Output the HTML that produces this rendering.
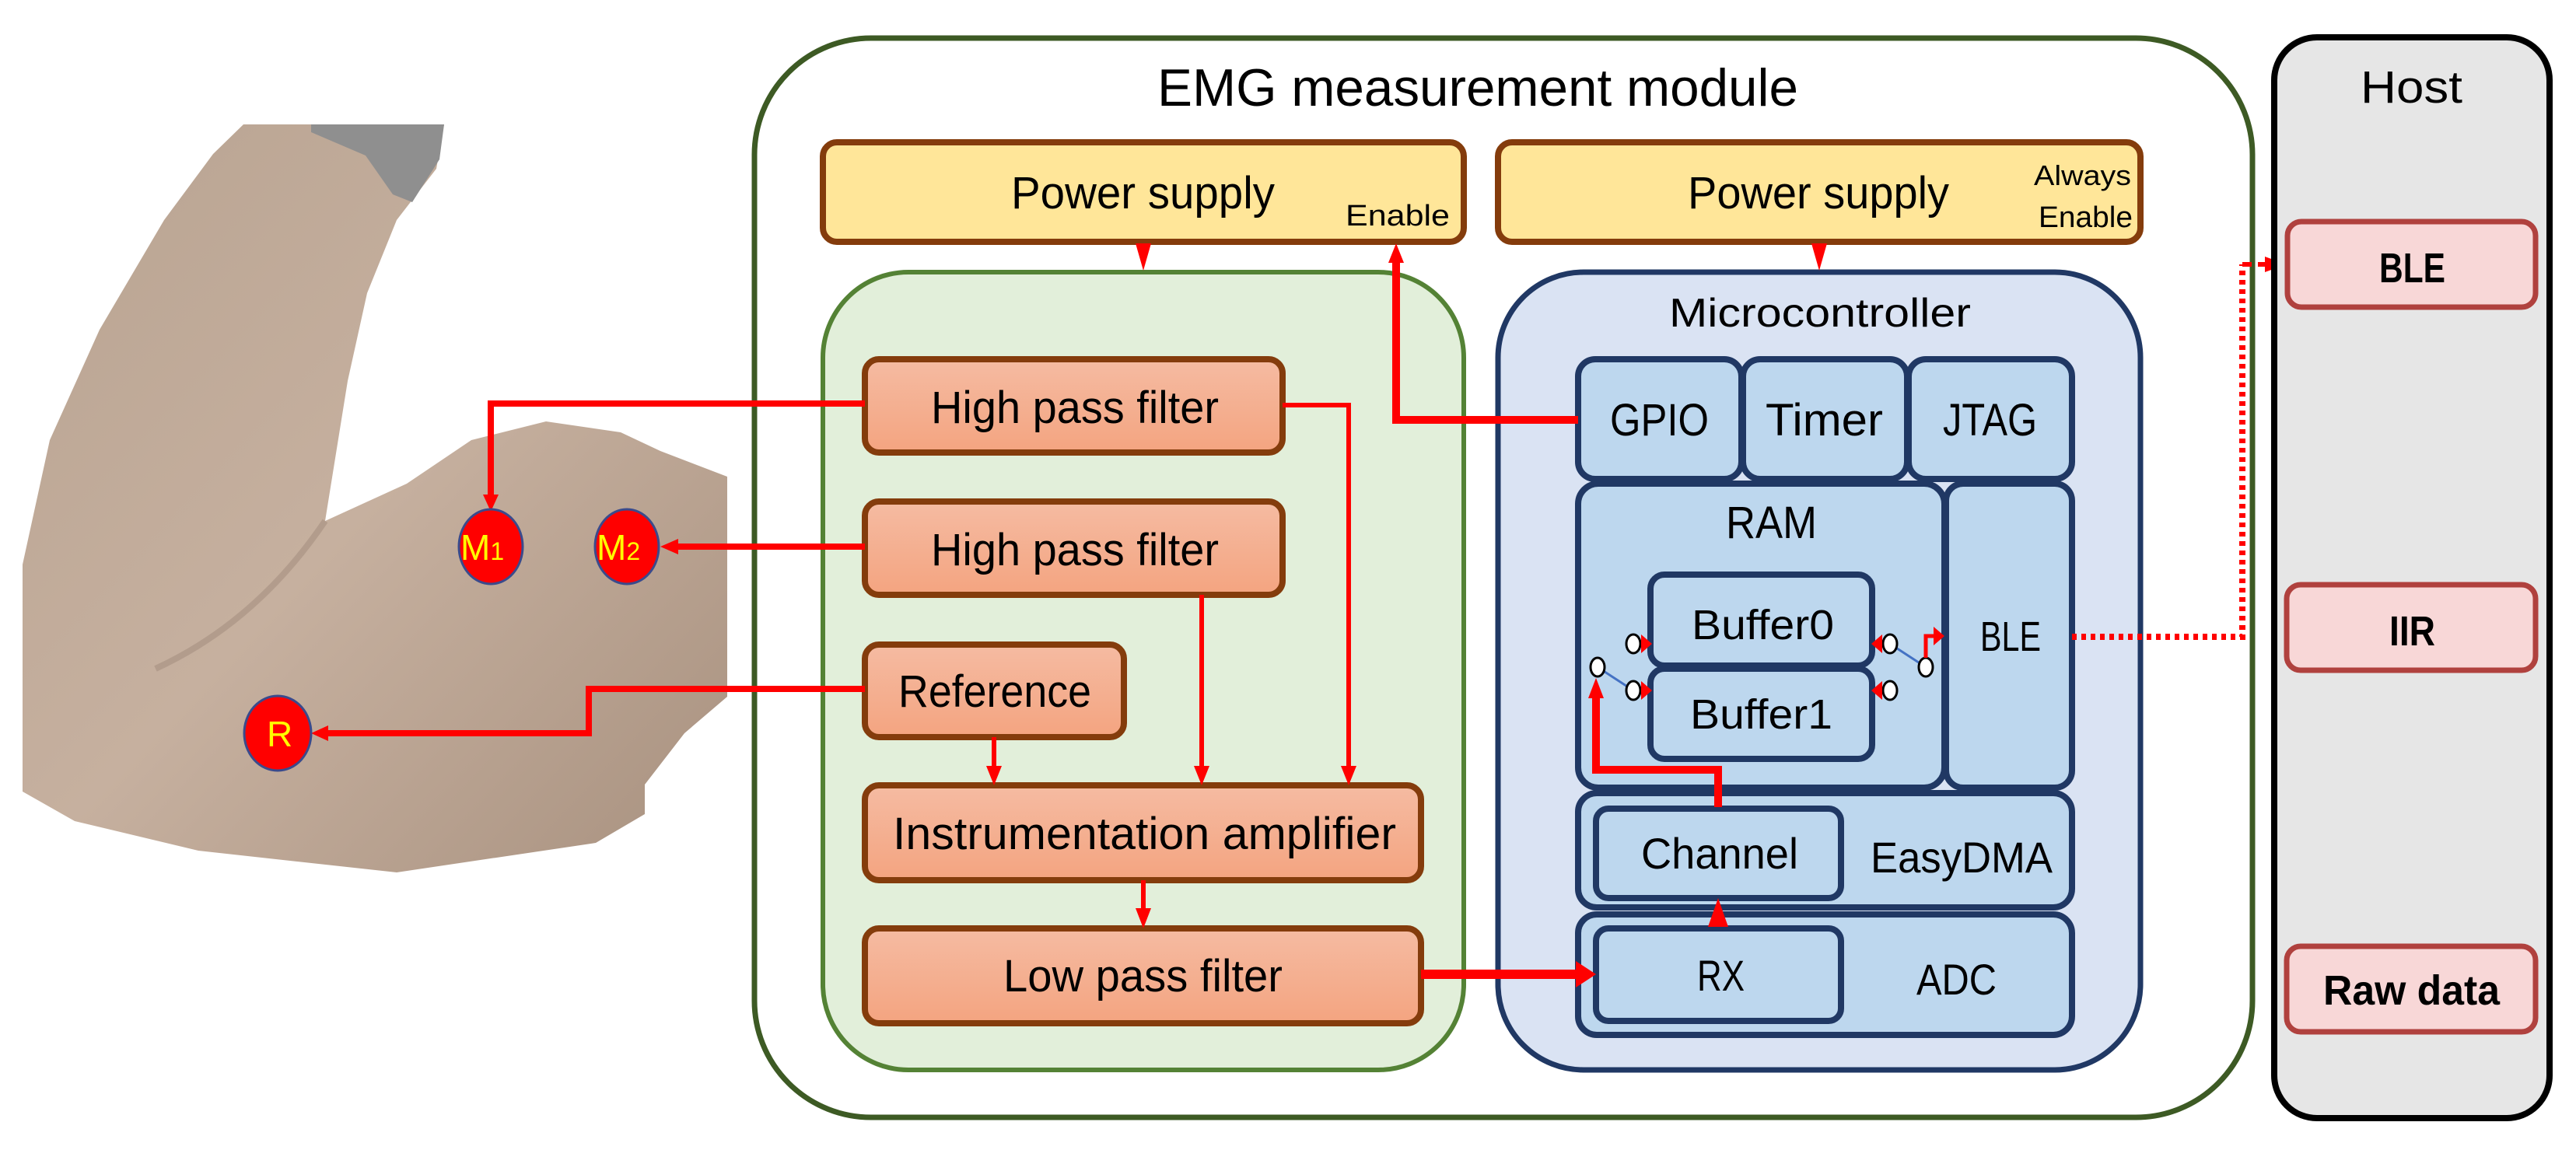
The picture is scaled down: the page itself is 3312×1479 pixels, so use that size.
<!DOCTYPE html>
<html><head><meta charset="utf-8"><style>html,body{margin:0;padding:0;background:#fff}svg{display:block}</style></head>
<body>
<svg width="3312" height="1479" viewBox="0 0 3312 1479" xmlns="http://www.w3.org/2000/svg" font-family="'Liberation Sans Narrow','Liberation Sans',sans-serif">
<defs>
<linearGradient id="og" x1="0" y1="0" x2="0" y2="1"><stop offset="0" stop-color="#f5bba2"/><stop offset="1" stop-color="#f4a480"/></linearGradient>
<linearGradient id="skin" x1="0" y1="0" x2="1" y2="1"><stop offset="0" stop-color="#b8a391"/><stop offset="0.5" stop-color="#c6b09f"/><stop offset="1" stop-color="#a8917f"/></linearGradient>
</defs>
<!-- arm -->
<polygon fill="url(#skin)" points="313,160 571,160 561,217 510,283 472,377 447,490 418,670 523,622 606,566 702,542 798,556 849,580 935,613 935,896 880,943 829,1009 829,1047 766,1084 510,1122 255,1094 96,1056 29,1018 29,726 64,566 128,424 211,283 274,198"/>
<polygon fill="#8f8f8f" points="400,160 571,160 565,205 530,260 505,250 470,200 400,170"/>
<path d="M418,670 Q330,800 200,860" stroke="#957f70" stroke-width="8" fill="none" opacity="0.4"/>
<!-- outer EMG box -->
<rect x="970" y="49" width="1926" height="1388" rx="150" fill="#fff" stroke="#3d5a24" stroke-width="7"/>
<text x="1488" y="136" font-size="68" textLength="824" lengthAdjust="spacingAndGlyphs">EMG measurement module</text>
<!-- power supplies -->
<rect x="1058" y="183" width="824" height="128" rx="18" fill="#ffe699" stroke="#843c0c" stroke-width="8"/>
<text x="1300" y="268" font-size="58" textLength="339" lengthAdjust="spacingAndGlyphs">Power supply</text>
<text x="1730" y="290" font-size="38" textLength="134" lengthAdjust="spacingAndGlyphs">Enable</text>
<rect x="1926" y="183" width="826" height="128" rx="18" fill="#ffe699" stroke="#843c0c" stroke-width="8"/>
<text x="2170" y="268" font-size="58" textLength="336" lengthAdjust="spacingAndGlyphs">Power supply</text>
<text x="2615" y="238" font-size="36" textLength="125" lengthAdjust="spacingAndGlyphs">Always</text>
<text x="2621" y="292" font-size="38" textLength="121" lengthAdjust="spacingAndGlyphs">Enable</text>
<!-- green box -->
<rect x="1058" y="350" width="824" height="1026" rx="110" fill="#e2efda" stroke="#548235" stroke-width="6"/>
<!-- blue box -->
<rect x="1926" y="350" width="826" height="1026" rx="110" fill="#dae3f3" stroke="#203864" stroke-width="7"/>
<text x="2146" y="420" font-size="52" textLength="388" lengthAdjust="spacingAndGlyphs">Microcontroller</text>
<!-- power arrows -->
<polygon points="1460,313 1480,313 1470,348" fill="#f00"/>
<polygon points="2329,313 2349,313 2339,348" fill="#f00"/>
<!-- orange boxes -->
<g fill="url(#og)" stroke="#843c0c" stroke-width="8">
<rect x="1112" y="462" width="537" height="120" rx="18"/>
<rect x="1112" y="645" width="537" height="120" rx="18"/>
<rect x="1112" y="829" width="333" height="119" rx="18"/>
<rect x="1112" y="1010" width="715" height="122" rx="18"/>
<rect x="1112" y="1194" width="715" height="122" rx="18"/>
</g>
<g font-size="58">
<text x="1197" y="544" textLength="370" lengthAdjust="spacingAndGlyphs">High pass filter</text>
<text x="1197" y="727" textLength="370" lengthAdjust="spacingAndGlyphs">High pass filter</text>
<text x="1155" y="909" textLength="248" lengthAdjust="spacingAndGlyphs">Reference</text>
<text x="1148" y="1092" textLength="647" lengthAdjust="spacingAndGlyphs">Instrumentation amplifier</text>
<text x="1290" y="1275" textLength="359" lengthAdjust="spacingAndGlyphs">Low pass filter</text>
</g>
<!-- blue inner -->
<g fill="#bdd7ee" stroke="#203864" stroke-width="8">
<rect x="2029" y="462" width="210" height="154" rx="22"/>
<rect x="2241" y="462" width="211" height="154" rx="22"/>
<rect x="2454" y="462" width="210" height="154" rx="22"/>
<rect x="2029" y="622" width="471" height="391" rx="26"/>
<rect x="2502" y="622" width="162" height="391" rx="22"/>
<rect x="2122" y="739" width="285" height="117" rx="18"/>
<rect x="2122" y="860" width="285" height="116" rx="18"/>
<rect x="2029" y="1020" width="635" height="147" rx="24"/>
<rect x="2052" y="1040" width="315" height="115" rx="16"/>
<rect x="2029" y="1176" width="635" height="155" rx="24"/>
<rect x="2052" y="1194" width="315" height="119" rx="16"/>
</g>
<g font-size="58">
<text x="2070" y="560" textLength="127" lengthAdjust="spacingAndGlyphs">GPIO</text>
<text x="2270" y="560" textLength="151" lengthAdjust="spacingAndGlyphs">Timer</text>
<text x="2498" y="560" textLength="121" lengthAdjust="spacingAndGlyphs">JTAG</text>
<text x="2219" y="692" textLength="117" lengthAdjust="spacingAndGlyphs">RAM</text>
<text x="2175" y="822" font-size="54" textLength="183" lengthAdjust="spacingAndGlyphs">Buffer0</text>
<text x="2173" y="937" font-size="54" textLength="183" lengthAdjust="spacingAndGlyphs">Buffer1</text>
<text x="2546" y="837" font-size="54" textLength="78" lengthAdjust="spacingAndGlyphs">BLE</text>
<text x="2110" y="1117" font-size="56" textLength="202" lengthAdjust="spacingAndGlyphs">Channel</text>
<text x="2405" y="1122" font-size="56" textLength="234" lengthAdjust="spacingAndGlyphs">EasyDMA</text>
<text x="2182" y="1274" font-size="56" textLength="61" lengthAdjust="spacingAndGlyphs">RX</text>
<text x="2464" y="1279" font-size="56" textLength="103" lengthAdjust="spacingAndGlyphs">ADC</text>
</g>
<!-- switches -->
<g stroke="#4472c4" stroke-width="3"><line x1="2054" y1="858" x2="2100" y2="888"/><line x1="2430" y1="828" x2="2476" y2="858"/></g>
<g fill="#fff" stroke="#000" stroke-width="3">
<ellipse cx="2100" cy="828" rx="9" ry="12"/><ellipse cx="2100" cy="888" rx="9" ry="12"/><ellipse cx="2054" cy="858" rx="9" ry="12"/>
<ellipse cx="2430" cy="828" rx="9" ry="12"/><ellipse cx="2430" cy="888" rx="9" ry="12"/><ellipse cx="2476" cy="858" rx="9" ry="12"/>
</g>
<g fill="#f00">
<polygon points="2110,816 2124,828 2110,840"/><polygon points="2110,876 2124,888 2110,900"/>
<polygon points="2420,816 2406,828 2420,840"/><polygon points="2420,876 2406,888 2420,900"/>
<polygon points="2486,806 2500,818 2486,830"/>
</g>
<polyline points="2476,846 2476,818 2490,818" fill="none" stroke="#f00" stroke-width="5"/>
<!-- red connectors -->
<g fill="none" stroke="#f00" stroke-linejoin="miter">
<polyline points="1649,521 1734,521 1734,985" stroke-width="6"/>
<polyline points="1545,765 1545,985" stroke-width="6"/>
<polyline points="1278,948 1278,985" stroke-width="6"/>
<polyline points="1470,1132 1470,1170" stroke-width="6"/>
<polyline points="1827,1253 2030,1253" stroke-width="12"/>
<polyline points="2029,540 1795,540 1795,335" stroke-width="10"/>
<polyline points="2209,1038 2209,990 2052,990 2052,895" stroke-width="10"/>
<polyline points="1112,519 631,519 631,640" stroke-width="8"/>
<polyline points="1112,703 870,703" stroke-width="8"/>
<polyline points="1112,886 757,886 757,943 420,943" stroke-width="8"/>
<polyline points="2664,819 2883,819 2883,340" stroke-width="8" stroke-dasharray="6,6"/>
<polyline points="2883,340 2915,340" stroke-width="6" stroke-dasharray="12,8"/>
<polyline points="3100,396 3100,725" stroke-width="8"/>
<polyline points="3100,863 3100,1190" stroke-width="8"/>
</g>
<g fill="#f00">
<polygon points="1724,985 1744,985 1734,1010"/>
<polygon points="1535,985 1555,985 1545,1010"/>
<polygon points="1268,985 1288,985 1278,1010"/>
<polygon points="1460,1168 1480,1168 1470,1194"/>
<polygon points="2026,1236 2052,1253 2026,1270"/>
<polygon points="1785,338 1805,338 1795,313"/>
<polygon points="2042,898 2062,898 2052,872"/>
<polygon points="2196,1192 2222,1192 2209,1155"/>
<polygon points="621,636 641,636 631,658"/>
<polygon points="872,693 872,713 849,703"/>
<polygon points="422,933 422,953 400,943"/>
<polygon points="2912,330 2912,350 2940,340"/>
<polygon points="3085,722 3115,722 3100,750"/>
<polygon points="3085,1188 3115,1188 3100,1215"/>
</g>
<!-- electrodes -->
<g fill="#f00" stroke="#3a4a8c" stroke-width="3">
<ellipse cx="631" cy="703" rx="41" ry="48"/><ellipse cx="806" cy="703" rx="41" ry="48"/><ellipse cx="357" cy="943" rx="43" ry="48"/>
</g>
<g fill="#ffff00" font-family="'Liberation Sans',sans-serif" font-size="46">
<text x="592" y="720">M<tspan font-size="32">1</tspan></text>
<text x="767" y="720">M<tspan font-size="32">2</tspan></text>
<text x="343" y="960">R</text>
</g>
<!-- Host -->
<rect x="2924" y="48" width="354" height="1390" rx="55" fill="#e6e6e6" stroke="#000" stroke-width="8"/>
<g font-family="'Liberation Sans',sans-serif">
<text x="3035" y="132" font-size="58" textLength="131" lengthAdjust="spacingAndGlyphs">Host</text>
<g fill="#f8d7d7" stroke="#b0413e" stroke-width="7">
<rect x="2941" y="285" width="319" height="110" rx="18"/>
<rect x="2940" y="752" width="320" height="110" rx="18"/>
<rect x="2940" y="1217" width="320" height="110" rx="18"/>
</g>
<text x="3059" y="363" font-size="54" font-weight="bold" textLength="85" lengthAdjust="spacingAndGlyphs">BLE</text>
<text x="3072" y="830" font-size="54" font-weight="bold" textLength="59" lengthAdjust="spacingAndGlyphs">IIR</text>
<text x="2987" y="1292" font-size="54" font-weight="bold" textLength="227" lengthAdjust="spacingAndGlyphs">Raw data</text>
</g>
</svg>
</body></html>
